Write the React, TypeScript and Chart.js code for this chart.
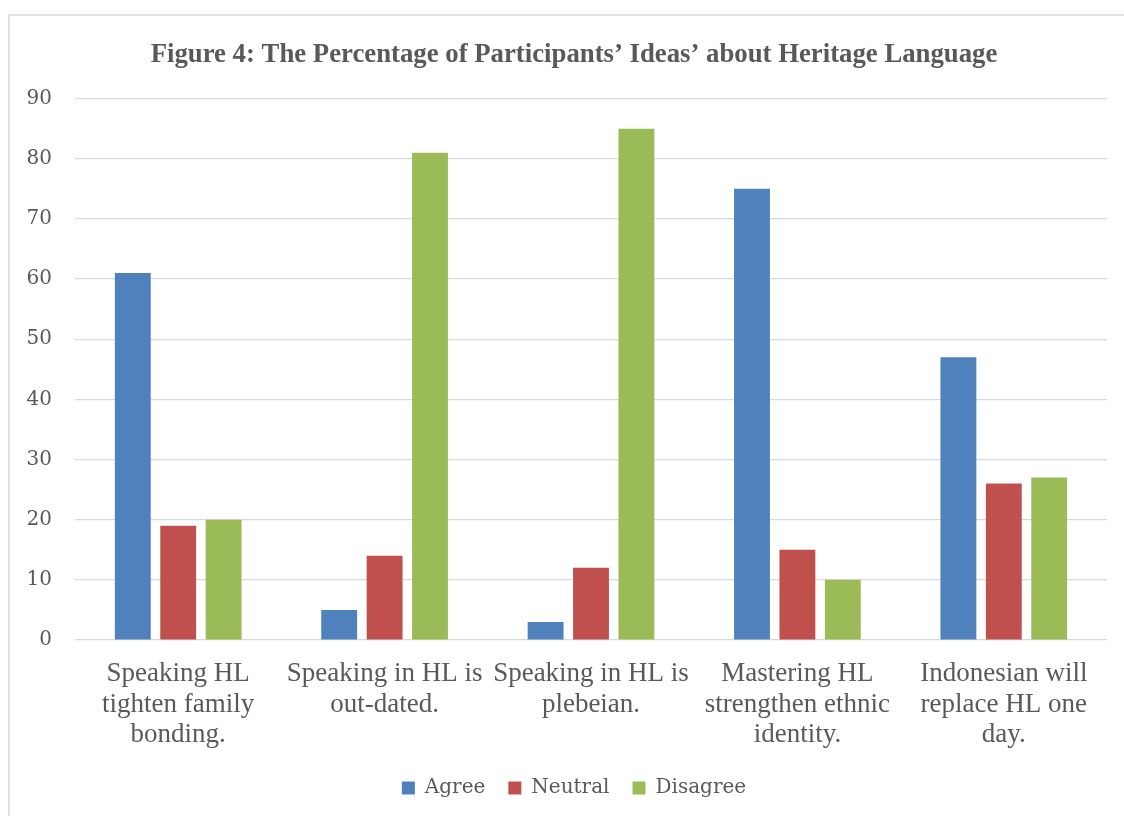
import React, { useEffect, useRef } from "react";
import { Chart, registerables } from "chart.js";

Chart.register(...registerables);

const titleText = "Figure 4: The Percentage of Participants’ Ideas’ about Heritage Language";
const categories: string[][] = [
  ["Speaking HL", "tighten family", "bonding."],
  ["Speaking in HL is", "out-dated."],
  ["Speaking in HL is", "plebeian."],
  ["Mastering HL", "strengthen ethnic", "identity."],
  ["Indonesian will", "replace HL one", "day."],
];
const seriesNames = ["Agree", "Neutral", "Disagree"];
const agree = [61, 5, 3, 75, 47];
const neutral = [19, 14, 12, 15, 26];
const disagree = [20, 81, 85, 10, 27];
const colors = ["#4F81BD", "#C0504D", "#9BBB59"];
const yTicks = [0, 10, 20, 30, 40, 50, 60, 70, 80, 90];

const TEXT = "#595959";

const frame = {
  id: "frame",
  beforeDraw(chart: any) {
    const ctx = chart.ctx;
    ctx.save();
    ctx.fillStyle = "#ffffff";
    ctx.fillRect(0, 0, chart.width, chart.height);
    ctx.strokeStyle = "#D9D9D9";
    ctx.lineWidth = 1.5;
    ctx.strokeRect(9, 15, chart.width + 50, chart.height + 50);
    ctx.restore();
  },
  afterLayout(chart: any) {
    // centre title and legend within the outer frame rather than from the canvas edge
    if (chart.titleBlock) chart.titleBlock.left = 41;
    if (chart.legend) chart.legend.left = 41;
  },
};

export default function App() {
  const ref = useRef<HTMLCanvasElement | null>(null);
  useEffect(() => {
    if (!ref.current) return;
    const values = [agree, neutral, disagree];
    const chart = new Chart(ref.current, {
      type: "bar",
      data: {
        labels: categories,
        datasets: seriesNames.map((n, i) => ({
          label: n,
          data: values[i],
          backgroundColor: colors[i],
          borderWidth: 0,
          categoryPercentage: 0.66,
          barPercentage: 0.79,
        })),
      },
      plugins: [frame],
      options: {
        responsive: false,
        animation: false,
        layout: { padding: { left: 0, right: 17, top: 0, bottom: 8 } },
        plugins: {
          title: {
            display: true,
            text: titleText,
            color: TEXT,
            font: { family: "'Liberation Serif', serif", size: 26.75, weight: "bold" },
            padding: { top: 39, bottom: 27.5 },
          },
          legend: {
            position: "bottom",
            labels: {
              boxWidth: 13,
              boxHeight: 13,
              padding: 23,
              color: TEXT,
              font: { family: "'DejaVu Serif', serif", size: 20 },
            },
          },
          tooltip: { enabled: false },
        },
        scales: {
          x: {
            grid: { display: false },
            border: { display: false },
            ticks: {
              color: TEXT,
              font: { family: "'Liberation Serif', serif", size: 27, lineHeight: 1.13 },
              maxRotation: 0,
              minRotation: 0,
              autoSkip: false,
              padding: 11,
            },
            afterFit(scale: any) {
              scale.height = 115;
            },
          },
          y: {
            min: 0,
            max: 90,
            afterBuildTicks(scale: any) {
              scale.ticks = yTicks.map((v) => ({ value: v }));
            },
            grid: { color: "#D9D9D9", lineWidth: 1.2, drawTicks: false },
            border: { display: false },
            ticks: {
              color: TEXT,
              font: { family: "'DejaVu Serif', serif", size: 20 },
              padding: 23,
            },
            afterFit(scale: any) {
              scale.width = 75;
            },
          },
        },
      },
    } as any);
    return () => chart.destroy();
  }, []);
  return (
    <div style={{ position: "fixed", left: 0, top: 0, width: 1124, height: 816, overflow: "hidden" }}>
      <canvas ref={ref} width={1124} height={816} style={{ display: "block" }} />
    </div>
  );
}
